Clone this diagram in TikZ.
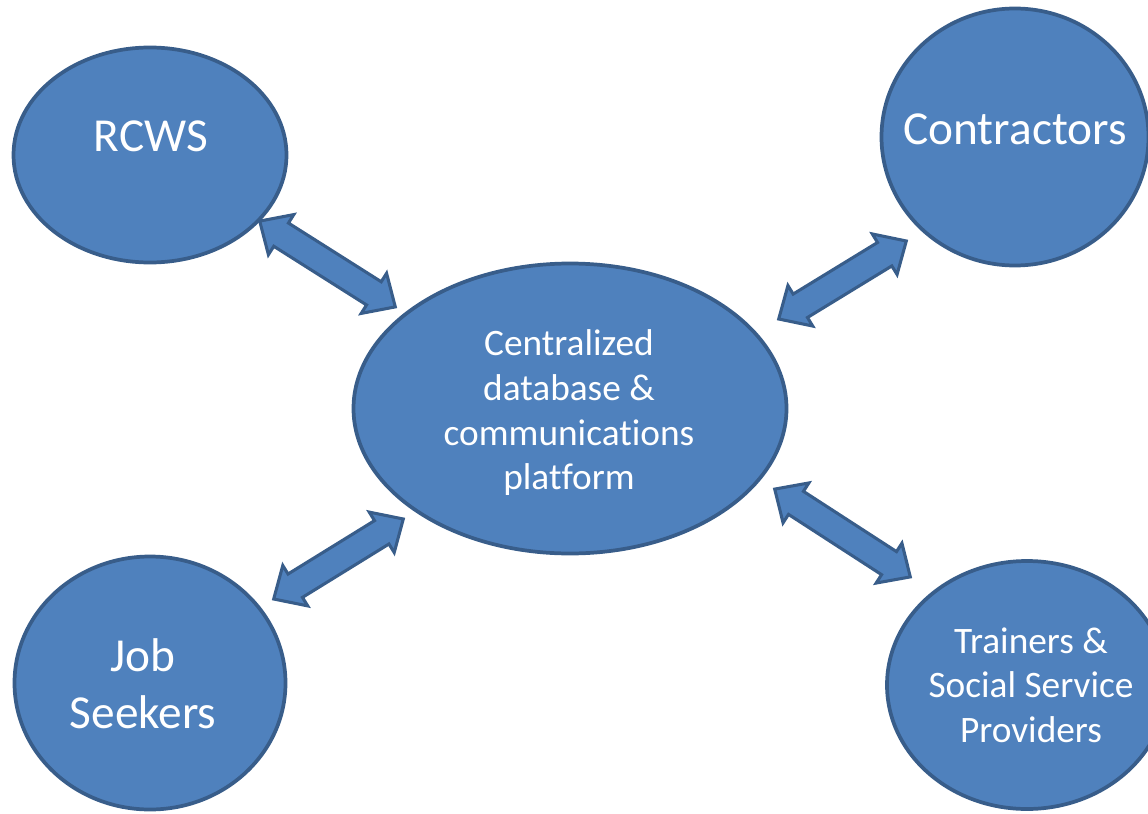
\documentclass[tikz,border=0pt]{standalone}
\usepackage{fontspec}
\setmainfont[Ligatures={NoCommon}]{Carlito}
\usetikzlibrary{shapes.geometric,calc}
\definecolor{fillblue}{HTML}{4F81BD}
\definecolor{edgeblue}{HTML}{385D8A}
\tikzset{
  bubble/.style={ellipse,draw=edgeblue,fill=fillblue,line width=2.8pt,inner sep=0pt},
  bubbletext/.style={text=white,align=center,inner sep=0pt},
  bigtext/.style={bubbletext,font=\fontsize{35.5pt}{42.5pt}\selectfont},
  smalltext/.style={bubbletext,font=\fontsize{28pt}{33.5pt}\selectfont},
  blockarrow/.style={draw=edgeblue,fill=fillblue,line width=2.3pt,line join=miter}
}
\newcommand{\hl}{19pt}
\newcommand{\hw}{17.8pt}
\newcommand{\sw}{10.3pt}
\newcommand{\dblarr}[2]{%
  \filldraw[blockarrow] (#1)
   -- ($(#1)!\hl!(#2)!\hw!90:(#2)$)
   -- ($(#1)!\hl!(#2)!\sw!90:(#2)$)
   -- ($(#2)!\hl!(#1)!\sw!-90:(#1)$)
   -- ($(#2)!\hl!(#1)!\hw!-90:(#1)$)
   -- (#2)
   -- ($(#2)!\hl!(#1)!\hw!90:(#1)$)
   -- ($(#2)!\hl!(#1)!\sw!90:(#1)$)
   -- ($(#1)!\hl!(#2)!\sw!-90:(#2)$)
   -- ($(#1)!\hl!(#2)!\hw!-90:(#2)$)
   -- cycle;}
\begin{document}
\begin{tikzpicture}[x=0.75pt,y=-0.75pt]
\useasboundingbox (0,0) rectangle (1148,813);
\clip (0,0) rectangle (1148,813);
% bubbles
\node[bubble,minimum width=273*0.75pt,minimum height=215*0.75pt] (rcws) at (150,155) {};
\node[bubble,minimum width=267*0.75pt,minimum height=257*0.75pt] (contr) at (1015,137) {};
\node[bubble,minimum width=271*0.75pt,minimum height=253*0.75pt] (jobs) at (150,683) {};
\node[bubble,minimum width=280*0.75pt,minimum height=248*0.75pt] (train) at (1027,685) {};
\node[bubble,minimum width=433*0.75pt,minimum height=290*0.75pt] (center) at (570,408.5) {};
% texts
\node[bigtext] (rcwsT) at (151,136) {RCWS};
\node[bigtext] (contrT) at (1015,129) {Contractors};
\node[bigtext] (jobsT) at (143,684) {Job\\Seekers};
\node[smalltext] (trainT) at (1031,685) {Trainers \&\\Social Service\\Providers};
\node[smalltext] (centerT) at (569,413) {Centralized\\database \&\\communications\\platform};
% arrow tips
\coordinate (a1s) at (259.7,221.1);
\coordinate (a1e) at (395.3,306.9);
\coordinate (a2s) at (906.3,241);
\coordinate (a2e) at (778.7,319);
\coordinate (a3s) at (403.3,519);
\coordinate (a3e) at (273.7,599);
\coordinate (a4s) at (774.7,489.1);
\coordinate (a4e) at (910.3,576.9);
\dblarr{a1s}{a1e}
\dblarr{a2s}{a2e}
\dblarr{a3s}{a3e}
\dblarr{a4s}{a4e}
\end{tikzpicture}
\end{document}
